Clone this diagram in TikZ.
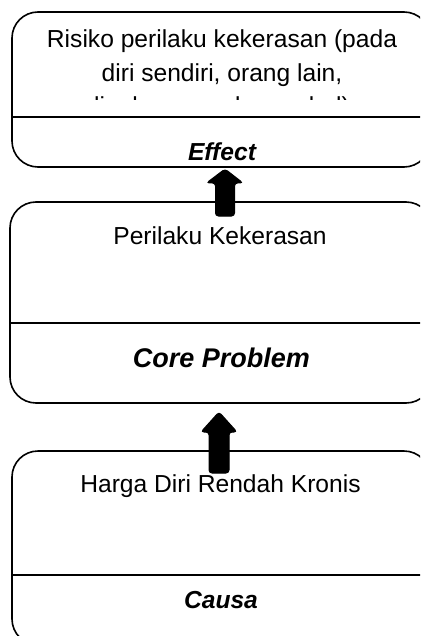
\documentclass[tikz,border=0pt]{standalone}
\usepackage{fontspec}
\setmainfont{Liberation Sans}
\begin{document}
\begin{tikzpicture}[x=1pt,y=-1pt,
  box/.style={draw=black,line width=1.6pt,rounded corners=26pt,fill=white},
  divider/.style={draw=black,line width=1.3pt},
  bodytext/.style={font=\fontsize{24.6}{33.5}\selectfont,align=center,inner sep=0pt,anchor=base},
  labeltext/.style={font=\fontsize{24.6}{30}\selectfont\bfseries\itshape,inner sep=0pt,anchor=base},
  blockarrow/.style={fill=black,draw=black,line width=1pt,rounded corners=3pt}]
\useasboundingbox (0,0) rectangle (420,636);
\clip (0,0) rectangle (420,636);
% boxes
\draw[box] (12,12) rectangle (430,167);
\coordinate (b1w) at (12,117); \coordinate (b1e) at (430,117);
\draw[divider] (b1w) -- (b1e);
\draw[box] (10,202) rectangle (432,403);
\coordinate (b2w) at (10,323); \coordinate (b2e) at (432,323);
\draw[divider] (b2w) -- (b2e);
\draw[box] (12,451) rectangle (430,645);
\coordinate (b3w) at (12,575); \coordinate (b3e) at (430,575);
\draw[divider] (b3w) -- (b3e);
% texts
\begin{scope}
\clip (12,12) rectangle (430,99.5);
\node[bodytext] (t1a) at (222,48) {Risiko perilaku kekerasan (pada};
\node[bodytext] (t1b) at (222,81.5) {diri sendiri, orang lain,};
\node[bodytext] (t1c) at (222,115) {lingkungan, dan verbal)};
\end{scope}
\node[labeltext] (effect) at (222,161) {Effect};
\node[bodytext] (t2) at (220,244) {Perilaku Kekerasan};
\node[labeltext,font=\fontsize{27}{32}\selectfont\bfseries\itshape] (core) at (221.5,367) {Core Problem};
\node[bodytext] (t3) at (220.5,492) {Harga Diri Rendah Kronis};
\node[labeltext] (causa) at (221,608) {Causa};
% block arrows
\path[blockarrow] (215.5,216) -- (215.5,183) -- (206.5,183) -- (225,169) -- (243,183) -- (234.5,183) -- (234.5,216) -- cycle;
\path[blockarrow] (209,473) -- (209,432) -- (201,432) -- (219,412) -- (237,432) -- (229,432) -- (229,473) -- cycle;
\end{tikzpicture}
\end{document}
